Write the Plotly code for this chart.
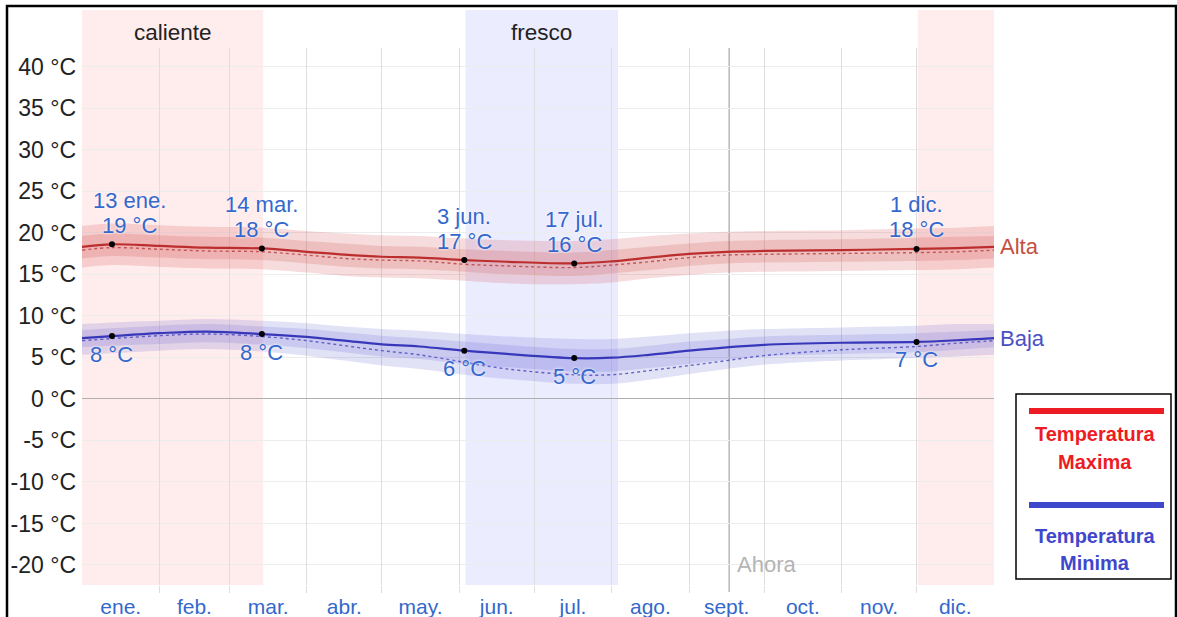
import plotly.graph_objects as go

# ---------------- data (day of year, 0 = 1 Jan) ----------------
days = [0, 12, 31, 50, 72, 90, 105, 120, 135, 153, 170, 197, 212, 227, 243, 258, 273, 304, 334, 350, 365]

hi_avg = [18.3, 18.6, 18.4, 18.2, 18.1, 17.7, 17.35, 17.1, 17.0, 16.7, 16.5, 16.3, 16.55, 17.0, 17.45, 17.7, 17.8, 17.9, 18.05, 18.15, 18.3]
hi_p90 = [20.8, 21.1, 20.9, 20.7, 20.6, 20.2, 19.9, 19.7, 19.6, 19.3, 19.1, 19.0, 19.2, 19.6, 19.9, 20.1, 20.2, 20.3, 20.5, 20.6, 20.8]
hi_p75 = [19.6, 19.9, 19.7, 19.5, 19.4, 19.0, 18.7, 18.4, 18.3, 18.0, 17.8, 17.6, 17.9, 18.3, 18.7, 19.0, 19.1, 19.2, 19.4, 19.5, 19.6]
hi_p25 = [16.9, 17.2, 17.0, 16.8, 16.7, 16.3, 15.9, 15.7, 15.6, 15.3, 15.0, 14.8, 15.1, 15.5, 16.0, 16.3, 16.4, 16.5, 16.6, 16.7, 16.9]
hi_p10 = [15.8, 16.1, 15.9, 15.7, 15.6, 15.2, 14.8, 14.6, 14.5, 14.2, 13.9, 13.8, 14.0, 14.5, 14.9, 15.2, 15.3, 15.4, 15.5, 15.6, 15.8]
hi_feel = [17.9, 18.2, 18.0, 17.8, 17.7, 17.3, 16.9, 16.7, 16.6, 16.2, 16.0, 15.8, 16.1, 16.5, 17.0, 17.3, 17.4, 17.5, 17.6, 17.7, 17.9]

lo_avg = [7.3, 7.55, 7.9, 8.1, 7.8, 7.45, 7.0, 6.55, 6.3, 5.8, 5.4, 4.9, 4.95, 5.3, 5.8, 6.2, 6.5, 6.75, 6.85, 7.05, 7.3]
lo_p90 = [9.0, 9.2, 9.4, 9.6, 9.4, 9.1, 8.7, 8.4, 8.2, 7.8, 7.5, 7.2, 7.2, 7.5, 7.9, 8.2, 8.4, 8.6, 8.8, 9.0, 9.0]
lo_p75 = [8.3, 8.5, 8.8, 9.0, 8.7, 8.4, 8.0, 7.6, 7.3, 6.9, 6.5, 6.0, 6.0, 6.4, 6.9, 7.2, 7.5, 7.7, 7.9, 8.1, 8.3]
lo_p25 = [6.2, 6.4, 6.6, 6.8, 6.5, 6.1, 5.6, 5.1, 4.8, 4.2, 3.8, 3.3, 3.3, 3.7, 4.2, 4.7, 5.1, 5.4, 5.6, 5.9, 6.2]
lo_p10 = [5.3, 5.5, 5.8, 6.0, 5.7, 5.2, 4.6, 4.0, 3.6, 2.9, 2.4, 1.8, 1.8, 2.3, 3.0, 3.6, 4.1, 4.6, 4.9, 5.1, 5.3]
lo_feel = [7.0, 7.25, 7.6, 7.8, 7.5, 7.0, 6.4, 5.8, 5.3, 4.4, 3.6, 2.9, 2.9, 3.4, 4.0, 4.6, 5.2, 5.9, 6.3, 6.7, 7.0]

key_days = [12, 72, 153, 197, 334]
key_dates = ["13 ene.", "14 mar.", "3 jun.", "17 jul.", "1 dic."]

month_starts = [31, 59, 90, 120, 151, 181, 212, 243, 273, 304, 334]
month_mids = [15.5, 45, 74.5, 105, 135.5, 166, 196.5, 227.5, 258, 288.5, 319, 349.5]
month_names = ["ene.", "feb.", "mar.", "abr.", "may.", "jun.", "jul.", "ago.", "sept.", "oct.", "nov.", "dic."]

y_ticks = [-20, -15, -10, -5, 0, 5, 10, 15, 20, 25, 30, 35, 40]
y_labels = [f"{v} °C" for v in y_ticks]

warm_seasons = [(0, 72.5), (334.5, 365)]
cool_seasons = [(153.5, 214.5)]
now_day = 259

# ---------------- layout geometry ----------------
W, H = 1177, 617
ML, MR, MT, MB = 82, 183, 48, 32
PW, PH = W - ML - MR, H - MT - MB


def px(x):
    return (x - ML) / PW


def py(y):
    return (H - MB - y) / PH


FONT = "Liberation Sans, Arial, sans-serif"
BLUE_TXT = "#3468cc"
HALO = "0px 0px 3px white"

fig = go.Figure()


def band(lo, hi, fill):
    fig.add_trace(go.Scatter(x=days, y=lo, mode="lines", line=dict(width=0, shape="spline"),
                             showlegend=False, hoverinfo="skip"))
    fig.add_trace(go.Scatter(x=days, y=hi, mode="lines", line=dict(width=0, shape="spline"),
                             fill="tonexty", fillcolor=fill, showlegend=False, hoverinfo="skip"))


band(hi_p10, hi_p90, "rgba(205,70,70,0.19)")
band(hi_p25, hi_p75, "rgba(205,70,70,0.19)")
band(lo_p10, lo_p90, "rgba(85,85,205,0.17)")
band(lo_p25, lo_p75, "rgba(85,85,205,0.17)")

fig.add_trace(go.Scatter(x=days, y=hi_feel, mode="lines",
                         line=dict(color="rgba(185,60,60,0.8)", width=1.4, dash="dot", shape="spline"),
                         showlegend=False, hoverinfo="skip"))
fig.add_trace(go.Scatter(x=days, y=lo_feel, mode="lines",
                         line=dict(color="rgba(70,70,190,0.8)", width=1.4, dash="dot", shape="spline"),
                         showlegend=False, hoverinfo="skip"))
fig.add_trace(go.Scatter(x=days, y=hi_avg, mode="lines",
                         line=dict(color="rgb(188,45,45)", width=2.2, shape="spline"),
                         name="Alta", showlegend=False))
fig.add_trace(go.Scatter(x=days, y=lo_avg, mode="lines",
                         line=dict(color="rgb(55,55,185)", width=2.2, shape="spline"),
                         name="Baja", showlegend=False))

key_hi = [hi_avg[days.index(d)] for d in key_days]
key_lo = [lo_avg[days.index(d)] for d in key_days]

fig.add_trace(go.Scatter(x=key_days + key_days, y=key_hi + key_lo, mode="markers",
                         marker=dict(color="black", size=6), showlegend=False, hoverinfo="skip"))

# axis for month gridlines (overlaying)
fig.add_trace(go.Scatter(x=[0, 365], y=[None, None], xaxis="x2", showlegend=False, hoverinfo="skip"))

lab_font = dict(family=FONT, size=22, color=BLUE_TXT, shadow=HALO)
annotations = []
for i, (d, h, l, t) in enumerate(zip(key_days, key_hi, key_lo, key_dates)):
    xs = 18 if i == 0 else 0
    annotations.append(dict(x=d, y=h, xref="x", yref="y", text=t, showarrow=False,
                            xanchor="center", yanchor="middle", xshift=xs, yshift=44, font=lab_font))
    annotations.append(dict(x=d, y=h, xref="x", yref="y", text=f"{round(h)} °C", showarrow=False,
                            xanchor="center", yanchor="middle", xshift=xs, yshift=19, font=lab_font))
    annotations.append(dict(x=d, y=l, xref="x", yref="y", text=f"{round(l)} °C", showarrow=False,
                            xanchor="center", yanchor="middle", yshift=-18, font=lab_font))

annotations.append(dict(x=365, y=hi_avg[-1], xref="x", yref="y", text="Alta", showarrow=False,
                        xanchor="left", yanchor="middle", xshift=4,
                        font=dict(family=FONT, size=22, color="rgb(195,80,65)")))
annotations.append(dict(x=365, y=lo_avg[-1], xref="x", yref="y", text="Baja", showarrow=False,
                        xanchor="left", yanchor="middle", xshift=4,
                        font=dict(family=FONT, size=22, color="rgb(75,80,195)")))

for (a, b) in warm_seasons[:1]:
    annotations.append(dict(x=(a + b) / 2, y=py(32), xref="x", yref="paper", text="caliente",
                            showarrow=False, xanchor="center", yanchor="middle",
                            font=dict(family=FONT, size=22.5, color="#222")))
for (a, b) in cool_seasons:
    annotations.append(dict(x=(a + b) / 2, y=py(32), xref="x", yref="paper", text="fresco",
                            showarrow=False, xanchor="center", yanchor="middle",
                            font=dict(family=FONT, size=22.5, color="#222")))

annotations.append(dict(x=now_day, y=-20, xref="x", yref="y", text="Ahora", showarrow=False,
                        xanchor="left", yanchor="middle", xshift=6,
                        font=dict(family=FONT, size=22, color="#b4b4b4")))

# legend box text
leg_font_r = dict(family=FONT, size=20, color="rgb(237,28,36)")
leg_font_b = dict(family=FONT, size=20, color="rgb(63,72,204)")
for txt, yy, f in [("<b>Temperatura</b>", 434, leg_font_r), ("<b>Maxima</b>", 462, leg_font_r),
                   ("<b>Temperatura</b>", 536, leg_font_b), ("<b>Minima</b>", 563, leg_font_b)]:
    annotations.append(dict(x=px(1095), y=py(yy), xref="paper", yref="paper", text=txt,
                            showarrow=False, xanchor="center", yanchor="middle", font=f))

shapes = []
for (a, b) in warm_seasons:
    shapes.append(dict(type="rect", xref="x", yref="paper", x0=a, x1=b, y0=0, y1=py(10),
                       fillcolor="rgb(255,236,236)", line=dict(width=0), layer="below"))
for (a, b) in cool_seasons:
    shapes.append(dict(type="rect", xref="x", yref="paper", x0=a, x1=b, y0=0, y1=py(10),
                       fillcolor="rgb(236,236,255)", line=dict(width=0), layer="below"))
shapes.append(dict(type="line", xref="x", yref="paper", x0=now_day, x1=now_day, y0=py(592), y1=1,
                   line=dict(color="rgb(165,165,165)", width=1.2), layer="below"))
# outer frame
shapes.append(dict(type="rect", xref="paper", yref="paper", x0=px(7), x1=px(1176), y0=py(640), y1=py(6),
                   line=dict(color="black", width=2.5), fillcolor="rgba(0,0,0,0)"))
# legend box
shapes.append(dict(type="rect", xref="paper", yref="paper", x0=px(1016), x1=px(1171), y0=py(579), y1=py(394),
                   line=dict(color="black", width=1.5), fillcolor="white"))
shapes.append(dict(type="line", xref="paper", yref="paper", x0=px(1029), x1=px(1164), y0=py(411), y1=py(411),
                   line=dict(color="rgb(237,28,36)", width=6)))
shapes.append(dict(type="line", xref="paper", yref="paper", x0=px(1029), x1=px(1164), y0=py(505), y1=py(505),
                   line=dict(color="rgb(63,72,204)", width=6)))

fig.update_layout(
    width=W, height=H,
    margin=dict(l=ML, r=MR, t=MT, b=MB, pad=0, autoexpand=False),
    paper_bgcolor="white", plot_bgcolor="rgba(0,0,0,0)",
    showlegend=False,
    xaxis=dict(range=[0, 365], tickvals=month_mids, ticktext=month_names, showgrid=False, zeroline=False,
               ticks="", ticklabelstandoff=7, automargin=False,
               tickfont=dict(family=FONT, size=21, color=BLUE_TXT), fixedrange=True),
    xaxis2=dict(range=[0, 365], overlaying="x", side="bottom", tickvals=month_starts, showticklabels=False,
                showgrid=True, gridcolor="rgb(222,222,222)", gridwidth=1, ticks="outside", ticklen=7,
                tickcolor="rgb(222,222,222)", zeroline=False, automargin=False, fixedrange=True),
    yaxis=dict(range=[-22.41, 42.23], tickvals=y_ticks, ticktext=y_labels, showgrid=True,
               gridcolor="rgb(236,236,236)", zeroline=True, zerolinecolor="rgb(175,175,175)", zerolinewidth=1,
               ticklabelstandoff=5, automargin=False,
               tickfont=dict(family=FONT, size=23, color="#222"), ticks="", fixedrange=True),
    shapes=shapes,
    annotations=annotations,
)

fig.write_html("out.html", config={"displayModeBar": False},
               post_script="document.body.style.margin='0';")
